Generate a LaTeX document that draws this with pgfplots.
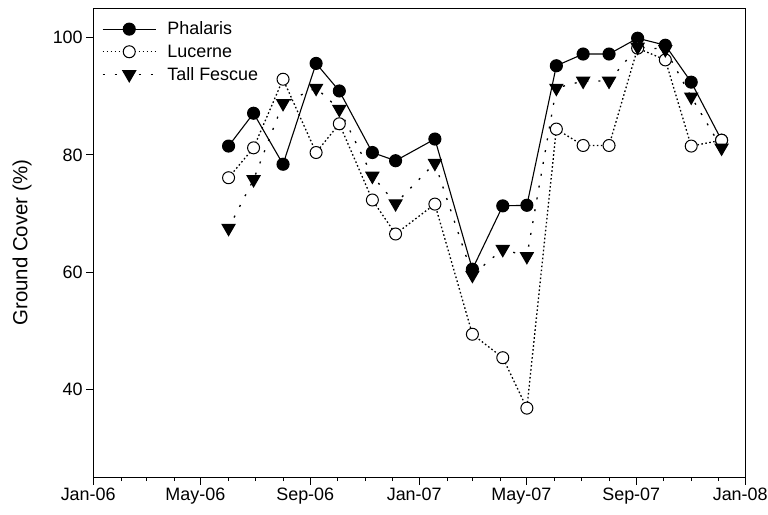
\documentclass[border=0pt]{standalone}
\usepackage{fontspec}
\setmainfont{Liberation Sans}
\usepackage{pgfplots}
\usepackage{pgfplotstable}
\pgfplotsset{compat=1.18}

% days counted from 1 Jan 2006
\pgfplotstableread{
day phal luc fes
151 81.5 76.1 67.5
179 87.1 81.2 75.8
212 78.4 92.9 88.8
249 95.6 80.4 91.4
275 90.9 85.3 87.8
312 80.4 72.3 76.4
338 79.0 66.5 71.7
382 82.7 71.6 78.6
424 60.5 49.4 59.5
458 71.3 45.4 63.9
485 71.4 36.8 62.7
518 95.2 84.4 91.4
548 97.2 81.6 92.6
577 97.2 81.6 92.6
609 99.9 98.2 98.4
640 98.7 96.2 98.0
669 92.4 81.5 89.9
703 82.5 82.5 81.2
}\gc

\begin{document}
\begin{tikzpicture}
\begin{axis}[
  scale only axis, width=652bp, height=469bp,
  xmin=0, xmax=730, ymin=25, ymax=105,
  xtick={0,120,243,365,485,608,730},
  xticklabels={Jan-06,May-06,Sep-06,Jan-07,May-07,Sep-07,Jan-08},
  minor xtick={31,59,90,151,181,212,273,304,334,396,424,455,516,546,577,638,669,699},
  ytick={40,60,80,100},
  tick pos=left, tick align=outside,
  major tick length=7.5bp, minor tick length=3.7bp,
  every tick/.style={black, line width=0.9bp},
  axis line style={line width=0.9bp},
  /pgf/number format/assume math mode=true,
  ticklabel style={font=\fontsize{18}{21}\selectfont},
  xticklabel style={xshift=-5.5bp},
  ylabel={Ground Cover (\%)},
  every axis y label/.style={at={(axis description cs:-0.110,0.5)}, rotate=90,
    anchor=center, font=\fontsize{20.5}{24}\selectfont},
  legend cell align=left,
  legend style={draw=none, fill=none, at={(0.008,0.98)}, anchor=north west,
    font=\fontsize{18}{21}\selectfont, row sep=4.5bp,
    /tikz/every odd column/.append style={column sep=9bp}},
  legend image code/.code={
    \draw[mark repeat=2, mark phase=2] plot coordinates {(0bp,0bp) (26.5bp,0bp) (53bp,0bp)};},
]
\addplot[black, line width=1.1bp, mark=*, mark size=6bp, mark options={solid, fill=black}]
  table[x=day, y=phal] {\gc};
\addlegendentry{Phalaris}
\addplot[black, line width=1.3bp, dash pattern=on 1.6bp off 2.4bp, mark=*, mark size=6bp,
  mark options={solid, fill=white, line width=1bp}]
  table[x=day, y=luc] {\gc};
\addlegendentry{Lucerne}
\addplot[black, line width=1.3bp, dash pattern=on 2bp off 10bp, mark=triangle*, mark size=7.2bp,
  mark options={solid, rotate=180, fill=black}]
  table[x=day, y=fes] {\gc};
\addlegendentry{Tall Fescue}
\end{axis}
\pgfresetboundingbox
\path[use as bounding box] (-93.7bp,-37.7bp) rectangle (674.3bp,477.3bp);
\end{tikzpicture}
\end{document}
